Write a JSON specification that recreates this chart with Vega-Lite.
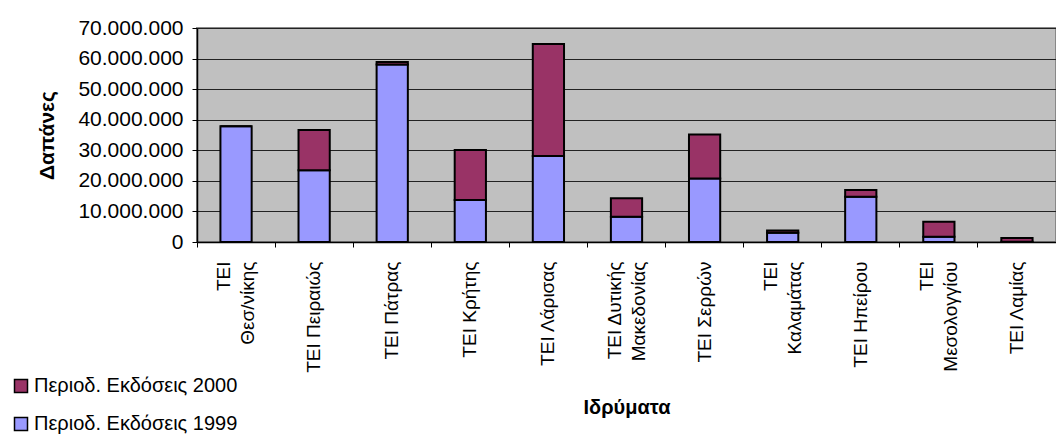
{
  "$schema": "https://vega.github.io/schema/vega-lite/v6.json",
  "width": 859,
  "height": 214,
  "autosize": {"type": "none"},
  "padding": {"left": 197, "top": 28, "right": 0, "bottom": 193},
  "background": "white",
  "data": {
    "values": [
      {"inst": "ΤΕΙ|Θεσ/νίκης", "series": "Περιοδ. Εκδόσεις 1999", "year": 1999, "value": 37900000},
      {"inst": "ΤΕΙ|Θεσ/νίκης", "series": "Περιοδ. Εκδόσεις 2000", "year": 2000, "value": 0},
      {"inst": "ΤΕΙ Πειραιώς", "series": "Περιοδ. Εκδόσεις 1999", "year": 1999, "value": 23500000},
      {"inst": "ΤΕΙ Πειραιώς", "series": "Περιοδ. Εκδόσεις 2000", "year": 2000, "value": 13100000},
      {"inst": "ΤΕΙ Πάτρας", "series": "Περιοδ. Εκδόσεις 1999", "year": 1999, "value": 58100000},
      {"inst": "ΤΕΙ Πάτρας", "series": "Περιοδ. Εκδόσεις 2000", "year": 2000, "value": 800000},
      {"inst": "ΤΕΙ Κρήτης", "series": "Περιοδ. Εκδόσεις 1999", "year": 1999, "value": 13700000},
      {"inst": "ΤΕΙ Κρήτης", "series": "Περιοδ. Εκδόσεις 2000", "year": 2000, "value": 16400000},
      {"inst": "ΤΕΙ Λάρισας", "series": "Περιοδ. Εκδόσεις 1999", "year": 1999, "value": 28100000},
      {"inst": "ΤΕΙ Λάρισας", "series": "Περιοδ. Εκδόσεις 2000", "year": 2000, "value": 36700000},
      {"inst": "ΤΕΙ Δυτικής|Μακεδονίας", "series": "Περιοδ. Εκδόσεις 1999", "year": 1999, "value": 8300000},
      {"inst": "ΤΕΙ Δυτικής|Μακεδονίας", "series": "Περιοδ. Εκδόσεις 2000", "year": 2000, "value": 6000000},
      {"inst": "ΤΕΙ Σερρών", "series": "Περιοδ. Εκδόσεις 1999", "year": 1999, "value": 20800000},
      {"inst": "ΤΕΙ Σερρών", "series": "Περιοδ. Εκδόσεις 2000", "year": 2000, "value": 14400000},
      {"inst": "ΤΕΙ|Καλαμάτας", "series": "Περιοδ. Εκδόσεις 1999", "year": 1999, "value": 3000000},
      {"inst": "ΤΕΙ|Καλαμάτας", "series": "Περιοδ. Εκδόσεις 2000", "year": 2000, "value": 800000},
      {"inst": "ΤΕΙ Ηπείρου", "series": "Περιοδ. Εκδόσεις 1999", "year": 1999, "value": 14800000},
      {"inst": "ΤΕΙ Ηπείρου", "series": "Περιοδ. Εκδόσεις 2000", "year": 2000, "value": 2200000},
      {"inst": "ΤΕΙ|Μεσολογγίου", "series": "Περιοδ. Εκδόσεις 1999", "year": 1999, "value": 1700000},
      {"inst": "ΤΕΙ|Μεσολογγίου", "series": "Περιοδ. Εκδόσεις 2000", "year": 2000, "value": 4900000},
      {"inst": "ΤΕΙ Λαμίας", "series": "Περιοδ. Εκδόσεις 1999", "year": 1999, "value": 100000},
      {"inst": "ΤΕΙ Λαμίας", "series": "Περιοδ. Εκδόσεις 2000", "year": 2000, "value": 1200000}
    ]
  },
  "mark": {"type": "bar", "width": {"band": 0.4}, "stroke": "black", "strokeWidth": 2},
  "encoding": {
    "x": {
      "field": "inst",
      "type": "nominal",
      "sort": null,
      "scale": {"paddingInner": 0, "paddingOuter": 0},
      "axis": {
        "title": "Ιδρύματα",
        "titleFontSize": 20,
        "titleFontWeight": "bold",
        "titleY": 171,
        "titleBaseline": "alphabetic",
        "bandPosition": 0,
        "labelAngle": -90,
        "labelAlign": "right",
        "labelBaseline": "middle",
        "labelFontSize": 19,
        "labelLineHeight": 24,
        "labelOffset": {"condition": {"test": "indexof(datum.value, '|') >= 0", "value": -12}, "value": 0},
        "labelPadding": 14,
        "labelExpr": "split(datum.label, '|')",
        "labelColor": "black",
        "domainColor": "black",
        "domainWidth": 1.5,
        "tickColor": "black",
        "tickSize": 5,
        "labelOverlap": false,
        "grid": false
      }
    },
    "y": {
      "field": "value",
      "type": "quantitative",
      "stack": "zero",
      "scale": {"domain": [0, 70000000], "nice": false},
      "axis": {
        "title": "Δαπάνες",
        "titleFontSize": 21,
        "titleFontWeight": "bold",
        "titlePadding": 20,
        "values": [0, 10000000, 20000000, 30000000, 40000000, 50000000, 60000000, 70000000],
        "labelExpr": "replace(replace(format(datum.value, ','), ',', '.'), ',', '.')",
        "labelFontSize": 21,
        "labelColor": "black",
        "labelPadding": 9,
        "domainColor": "black",
        "domainWidth": 1.5,
        "tickColor": "black",
        "tickSize": 5,
        "grid": true,
        "gridColor": "#222222",
        "gridWidth": 1
      }
    },
    "color": {
      "field": "series",
      "type": "nominal",
      "scale": {
        "domain": ["Περιοδ. Εκδόσεις 2000", "Περιοδ. Εκδόσεις 1999"],
        "range": ["#993366", "#9999FF"]
      },
      "legend": {
        "title": null,
        "orient": "none",
        "legendX": -186,
        "legendY": 348,
        "symbolType": "square",
        "symbolSize": 169,
        "symbolStrokeColor": "black",
        "symbolStrokeWidth": 1.5,
        "labelFontSize": 20,
        "labelLimit": 0,
        "labelColor": "black",
        "labelOffset": 3,
        "rowPadding": 18
      }
    },
    "order": {"field": "year", "type": "quantitative", "sort": "ascending"}
  },
  "config": {
    "font": "Liberation Sans",
    "view": {"fill": "#C0C0C0", "stroke": "#888888", "strokeWidth": 2},
    "axis": {"titleColor": "black"}
  }
}
